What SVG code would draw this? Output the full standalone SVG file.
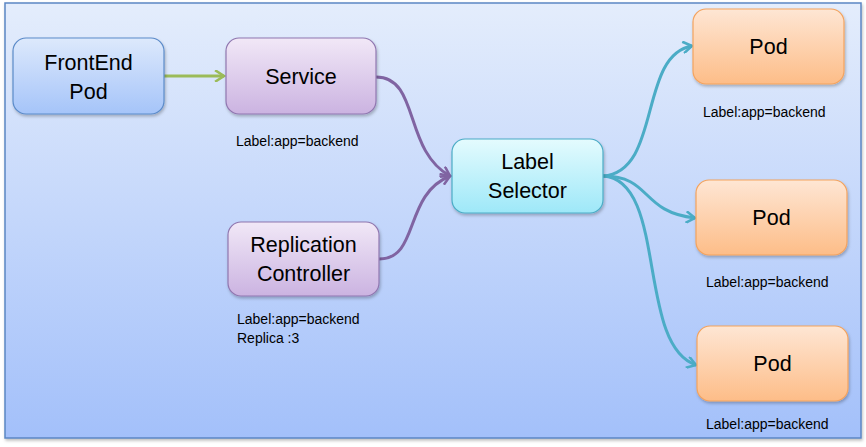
<svg xmlns="http://www.w3.org/2000/svg" width="866" height="447" viewBox="0 0 866 447">
<defs>
<linearGradient id="bg" x1="0" y1="0" x2="0" y2="1"><stop offset="0" stop-color="#e4edfc"/><stop offset="1" stop-color="#a3c0fa"/></linearGradient>
<linearGradient id="gBlue" x1="0" y1="0" x2="0" y2="1"><stop offset="0" stop-color="#dde9fc"/><stop offset="1" stop-color="#a5c4f9"/></linearGradient>
<linearGradient id="gPurple" x1="0" y1="0" x2="0" y2="1"><stop offset="0" stop-color="#f1e8f7"/><stop offset="1" stop-color="#cbb3e1"/></linearGradient>
<linearGradient id="gCyan" x1="0" y1="0" x2="0" y2="1"><stop offset="0" stop-color="#e4fbfe"/><stop offset="1" stop-color="#9ee8f8"/></linearGradient>
<linearGradient id="gOrange" x1="0" y1="0" x2="0" y2="1"><stop offset="0" stop-color="#fee6d4"/><stop offset="1" stop-color="#fdbd88"/></linearGradient>
<filter id="sh" x="-10%" y="-10%" width="125%" height="130%"><feDropShadow dx="1" dy="2" stdDeviation="1.5" flood-color="#000" flood-opacity="0.25"/></filter>
<marker id="aG" viewBox="0 0 12 12" refX="10" refY="6" markerWidth="4.2" markerHeight="4.2" orient="auto" markerUnits="strokeWidth"><path d="M1.5,0.5 L10,6 L1.5,11.5" fill="none" stroke="#9bbb59" stroke-width="2.4"/></marker>
<marker id="aP" viewBox="0 0 12 12" refX="10" refY="6" markerWidth="4.2" markerHeight="4.2" orient="auto" markerUnits="strokeWidth"><path d="M1.5,0.5 L10,6 L1.5,11.5" fill="none" stroke="#8064a2" stroke-width="2.4"/></marker>
<marker id="aC" viewBox="0 0 12 12" refX="10" refY="6" markerWidth="4.2" markerHeight="4.2" orient="auto" markerUnits="strokeWidth"><path d="M1.5,0.5 L10,6 L1.5,11.5" fill="none" stroke="#4bacc6" stroke-width="2.4"/></marker>
</defs>
<style>
.t{font-family:"Liberation Sans",Arial,sans-serif;font-size:21.5px;fill:#000;text-anchor:middle}
.l{font-family:"Liberation Sans",Arial,sans-serif;font-size:14px;fill:#000}
.c{fill:none;stroke-width:3}
</style>
<rect x="5" y="3" width="856" height="435" fill="url(#bg)" stroke="#5b86c4" stroke-width="1.5" filter="url(#sh)"/>
<g id="connectors">
<path class="c" d="M164,76 L224,76" stroke="#9bbb59" marker-end="url(#aG)"/>
<path class="c" d="M376,77 C420,77 403,150 450,176" stroke="#8064a2" marker-end="url(#aP)"/>
<path class="c" d="M379,259 C420,259 403,195 450,176" stroke="#8064a2" marker-end="url(#aP)"/>
<path class="c" d="M603,176 C662,172 638,55 692,46" stroke="#4bacc6" marker-end="url(#aC)"/>
<path class="c" d="M603,176 C652,176 640,212 695,218" stroke="#4bacc6" marker-end="url(#aC)"/>
<path class="c" d="M603,176 C668,180 636,345 696,365" stroke="#4bacc6" marker-end="url(#aC)"/>
</g>
<g id="frontend">
<rect x="13" y="38" width="151" height="76" rx="13" fill="url(#gBlue)" stroke="#5b8bc9" stroke-width="1.2" filter="url(#sh)"/>
<text class="t" x="88.5" y="70">FrontEnd</text>
<text class="t" x="88.5" y="99">Pod</text>
</g>
<g id="service">
<rect x="226" y="38" width="150" height="76" rx="13" fill="url(#gPurple)" stroke="#9077b0" stroke-width="1.2" filter="url(#sh)"/>
<text class="t" x="301" y="84">Service</text>
<text class="l" x="236" y="146">Label:app=backend</text>
</g>
<g id="rc">
<rect x="228" y="222" width="151" height="74" rx="13" fill="url(#gPurple)" stroke="#9077b0" stroke-width="1.2" filter="url(#sh)"/>
<text class="t" x="303.5" y="252">Replication</text>
<text class="t" x="303.5" y="281">Controller</text>
<text class="l" x="237" y="324">Label:app=backend</text>
<text class="l" x="237" y="343">Replica :3</text>
</g>
<g id="selector">
<rect x="452" y="139" width="151" height="74" rx="13" fill="url(#gCyan)" stroke="#4bacc6" stroke-width="1.2" filter="url(#sh)"/>
<text class="t" x="527.5" y="169">Label</text>
<text class="t" x="527.5" y="198">Selector</text>
</g>
<g id="pod1">
<rect x="693" y="9" width="151" height="75" rx="13" fill="url(#gOrange)" stroke="#f4a35e" stroke-width="1.2" filter="url(#sh)"/>
<text class="t" x="768.5" y="54">Pod</text>
<text class="l" x="703" y="117">Label:app=backend</text>
</g>
<g id="pod2">
<rect x="696" y="180" width="151" height="75" rx="13" fill="url(#gOrange)" stroke="#f4a35e" stroke-width="1.2" filter="url(#sh)"/>
<text class="t" x="771.5" y="225">Pod</text>
<text class="l" x="706" y="287">Label:app=backend</text>
</g>
<g id="pod3">
<rect x="697" y="326" width="151" height="75" rx="13" fill="url(#gOrange)" stroke="#f4a35e" stroke-width="1.2" filter="url(#sh)"/>
<text class="t" x="772.5" y="371">Pod</text>
<text class="l" x="706" y="429">Label:app=backend</text>
</g>
</svg>
